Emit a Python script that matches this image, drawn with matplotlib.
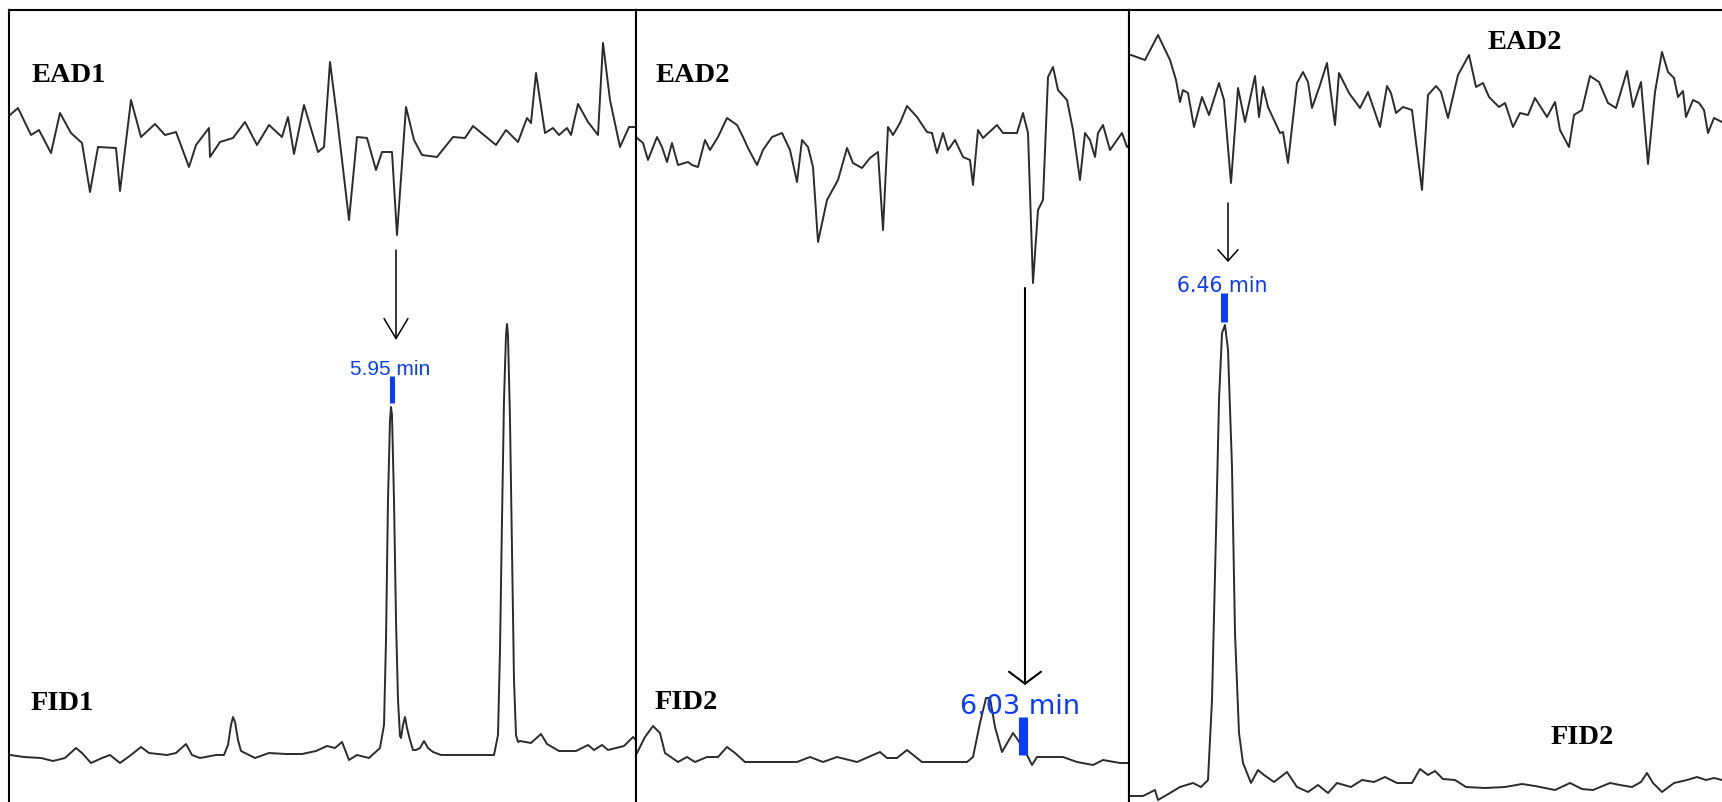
import numpy as np
import matplotlib.pyplot as plt

# labels
ead_names = ["EAD1", "EAD2", "EAD2"]
fid_names = ["FID1", "FID2", "FID2"]
rt_labels = ["5.95 min", "6.03 min", "6.46 min"]

# panel 1 - antenna response (mV, rel. baseline) and FID (pA, rel. baseline)
ead1_scan = [1, 9, 22, 30, 42, 51, 62, 73, 81, 89, 107, 111, 122, 132, 146, 156, 167, 180, 187, 200,
             201, 211, 224, 236, 248, 260, 273, 279, 285, 295, 309, 315, 321, 328, 340, 348, 358, 367, 373, 383,
             388, 397, 405, 413, 428, 444, 456, 464, 487, 497, 509, 518, 522, 527, 536, 544, 550, 558, 562, 569,
             579, 589, 594, 601, 611, 620, 627]
ead1_resp = [20, 27, 0, 5, -18, 22, 2, -8, -57, -12, -13, -56, 35, -2, 11, 0, 3, -32, -10, 7,
             -22, -7, -3, 13, -10, 10, -2, 18, -19, 30, -17, -12, 73, 18, -85, -2, -3, -35, -17, -17,
             -100, 28, -5, -20, -22, -2, -3, 9, -10, 5, -7, 17, 12, 62, 2, 7, 0, 7, 0, 31,
             13, 0, 92, 35, -12, 8, 8]
fid1_scan = [1, 15, 32, 44, 56, 67, 73, 82, 93, 101, 111, 122, 132, 140, 158, 167, 177, 183, 191, 207,
             215, 219, 222, 224, 226, 229, 232, 246, 260, 277, 293, 307, 318, 326, 333, 340, 348, 360, 371, 375,
             377, 379, 381, 382, 383, 385, 387, 389, 391, 392, 394, 396, 398, 401, 404, 407, 411, 415, 419, 424,
             432, 448, 464, 485, 489, 491, 493, 495, 497, 498, 499, 501, 503, 505, 507, 509, 511, 522, 532, 538,
             550, 567, 579, 585, 593, 599, 615, 624, 628]
fid1_resp = [2, 0, -1, -4, -1, 9, 4, -6, -1, 2, -6, 2, 10, 4, 2, 4, 13, 2, -1, 2,
             2, 12, 32, 40, 35, 17, 6, -1, 4, 3, 3, 6, 11, 9, 15, -3, 2, -1, 9, 32,
             117, 257, 337, 350, 342, 257, 137, 57, 21, 19, 32, 40, 29, 17, 7, 7, 9, 16, 9, 5,
             2, 2, 2, 2, 22, 107, 237, 357, 422, 433, 422, 337, 207, 77, 22, 15, 16, 14, 23, 13,
             6, 6, 12, 7, 12, 7, 11, 20, 16]

# panel 2
ead2_scan = [1, 7, 12, 21, 26, 31, 36, 42, 52, 56, 62, 69, 74, 82, 91, 101, 107, 112, 121, 127,
             136, 146, 154, 161, 166, 172, 177, 182, 191, 202, 211, 217, 226, 234, 242, 247, 252, 257, 264, 271,
             281, 291, 296, 301, 307, 312, 319, 327, 334, 337, 342, 347, 361, 367, 381, 387, 392, 397, 402, 407,
             412, 417, 422, 431, 437, 444, 449, 454, 459, 462, 467, 474, 481, 486, 491, 493]
ead2_resp = [2, -3, -20, 3, -7, -22, -3, -25, -22, -25, -27, 0, -10, 3, 22, 15, 3, -8, -25, -10,
             3, 7, -10, -42, 0, -7, -27, -102, -60, -40, -8, -23, -28, -18, -12, -90, 13, 5, 17, 34,
             23, 8, 7, -13, 7, -10, 0, -17, -20, -45, 10, 2, 15, 7, 7, 27, 7, -143, -70, -60,
             63, 73, 50, 40, 10, -40, 7, 0, -17, 7, 15, -10, 0, 7, -7, -5]
fid2_scan = [1, 9, 17, 24, 29, 42, 51, 59, 71, 82, 91, 99, 109, 161, 174, 187, 201, 221, 244, 251,
             261, 271, 286, 331, 337, 344, 350, 354, 359, 366, 377, 382, 391, 396, 401, 427, 441, 457, 467, 484,
             493]
fid2_resp = [4, 20, 31, 24, 4, -5, 0, -5, 0, 0, 10, 4, -5, -5, 0, -5, 0, -5, 5, -1,
             -1, 7, -5, -5, 0, 34, 59, 59, 30, 5, 24, 17, 2, -8, 0, 0, -5, -8, -3, -6,
             -6]

# panel 3
ead3_scan = [2, 16, 29, 41, 47, 51, 54, 59, 65, 73, 80, 90, 95, 102, 109, 116, 126, 130, 134, 139,
             151, 154, 159, 168, 174, 179, 183, 191, 198, 206, 210, 220, 231, 239, 251, 258, 262, 267, 274, 283,
             293, 299, 307, 312, 319, 329, 340, 347, 354, 360, 370, 376, 384, 391, 399, 406, 418, 426, 431, 440,
             445, 453, 461, 470, 479, 487, 498, 504, 512, 519, 526, 533, 539, 545, 549, 554, 557, 564, 570, 575,
             579, 585, 593]
ead3_resp = [45, 40, 65, 40, 20, -2, 10, 7, -27, 3, -15, 17, 0, -83, 12, -22, 24, -17, 13, -7,
             -33, -32, -63, 17, 28, 18, -8, 15, 37, -25, 27, 7, -8, 8, -27, 14, 7, -13, -7, -10,
             -90, 5, 14, 8, -18, 25, 45, 13, 17, 3, -7, -3, -27, -13, -15, 2, -17, -2, -30, -47,
             -15, -10, 24, 18, -3, -8, 29, -7, 18, -64, 8, 48, 28, 22, 3, 9, -17, 0, -3, -10,
             -33, -18, -22]
fid3_scan = [2, 14, 26, 29, 41, 51, 64, 72, 79, 83, 87, 90, 93, 96, 99, 103, 106, 110, 114, 122,
             129, 135, 145, 158, 168, 179, 189, 199, 208, 222, 233, 245, 256, 268, 283, 291, 299, 306, 314, 326,
             337, 356, 376, 393, 406, 426, 441, 453, 464, 481, 491, 503, 512, 518, 524, 533, 545, 558, 568, 577,
             585, 593]
fid3_resp = [-9, -9, -3, -13, -6, 0, 4, 0, 7, 87, 254, 387, 454, 462, 437, 320, 154, 54, 24, 4,
             17, 12, 5, 15, 0, -5, 2, -6, 4, 0, 7, 5, 10, 4, 4, 18, 12, 16, 8, 7,
             0, -1, 0, 3, 1, -3, 4, -2, -3, 4, 2, 0, 5, 14, 4, -5, 4, 7, 10, 7,
             9, 7]

# layout (pixels of a 1722 x 802 canvas)
W, H = 1722, 802
top = 10
panel_left = [9, 636, 1129]
panel_width = [627, 493, 593]
ead_base = [667, 662, 702]
fid_base = [45, 45, 15]
# arrow: x, start, tip ; marker: x, y0, y1, width ; rt text: x, y
arrows = [(387, 552, 462, 1.1, 1.44, 0.86), (389, 514, 117, 1.5, 0.86, 1.15), (99, 599, 540, 1.1, 0.8, 0.72)]
markers = [(382.5, 399, 426, 3.6), (386.5, 47, 85, 6.5), (95, 480, 509, 5.0)]
rt_pos = [(381.5, 427), (384, 88), (93.5, 510)]
rt_fonts = [("Liberation Sans", 15), ("DejaVu Sans", 19.5), ("DejaVu Sans", 14.8)]
ead_lab = [(22, 720), (19, 720), (358, 753)]
fid_lab = [(22, 92), (19, 93), (422, 58)]

traces = [(ead1_scan, ead1_resp, fid1_scan, fid1_resp),
          (ead2_scan, ead2_resp, fid2_scan, fid2_resp),
          (ead3_scan, ead3_resp, fid3_scan, fid3_resp)]

fig = plt.figure(figsize=(W / 100, H / 100), dpi=100)
blue = "#0a3cff"

for i in range(3):
    ax = fig.add_axes([panel_left[i] / W, 0, panel_width[i] / W, (H - top) / H])
    ax.set_xlim(0, panel_width[i])
    ax.set_ylim(0, H - top)
    ax.set_xticks([])
    ax.set_yticks([])
    ax.spines["bottom"].set_visible(False)
    if i == 2:
        ax.spines["right"].set_visible(False)
    for s in ax.spines.values():
        s.set_linewidth(1.5)

    es, er, fs, fr = traces[i]
    ax.plot(es, np.array(er) + ead_base[i], color="#2b2b2b", lw=1.4)
    ax.plot(fs, np.array(fr) + fid_base[i], color="#2b2b2b", lw=1.4)

    ax_x, y0, y1, alw, hl, hw = arrows[i]
    ax.annotate("", xy=(ax_x, y1), xytext=(ax_x, y0),
                arrowprops=dict(arrowstyle="->,head_length=%s,head_width=%s" % (hl, hw),
                                lw=alw, color="black", shrinkA=0, shrinkB=0,
                                mutation_scale=10))

    mx, m0, m1, mw = markers[i]
    ax.plot([mx, mx], [m0, m1], color=blue, lw=mw, solid_capstyle="butt")
    fam, fsz = rt_fonts[i]
    ax.text(rt_pos[i][0], rt_pos[i][1], rt_labels[i], color=blue, fontsize=fsz,
            family=fam, ha="center", va="baseline")

    ax.text(ead_lab[i][0], ead_lab[i][1], ead_names[i], fontsize=20.5, family="Liberation Serif",
            fontweight="bold", va="baseline")
    ax.text(fid_lab[i][0], fid_lab[i][1], fid_names[i], fontsize=20.5, family="Liberation Serif",
            fontweight="bold", va="baseline")

fig.savefig("out.png", dpi=100)
